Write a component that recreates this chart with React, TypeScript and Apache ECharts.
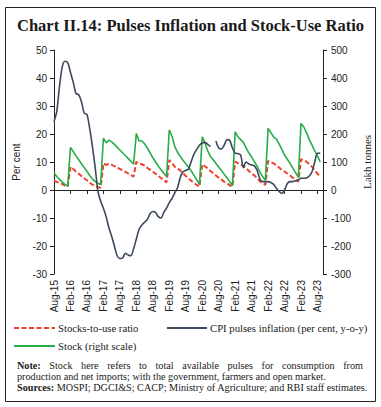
import React, { useEffect, useRef } from "react";
import * as echarts from "echarts";

// ---------- Data ----------
const MONTH_NAMES = ["Jan", "Feb", "Mar", "Apr", "May", "Jun", "Jul", "Aug", "Sep", "Oct", "Nov", "Dec"];
const START_YEAR = 2015;
const START_MONTH = 7; // Aug
const N_MONTHS = 99; // Aug-15 .. Oct-23

const categories: string[] = [];
for (let i = 0; i < N_MONTHS; i++) {
  const m = (START_MONTH + i) % 12;
  const y = START_YEAR + Math.floor((START_MONTH + i) / 12);
  categories.push(`${MONTH_NAMES[m]}-${String(y).slice(2)}`);
}

// CPI pulses inflation (per cent, y-o-y), left scale
const cpiInflation: (number | null)[] = [
  24.5, 28, 37, 44, 46, 45.5, 42, 38.5, 34.5, 34, 31.5, 27.5,
  27, 22, 15.5, 8, -0.5, -4, -6.5, -9.5, -13.5, -16.5, -20, -23.5,
  -24.5, -24.3, -22.6, -23.2, -23.5, -21, -17.5, -14, -12.5, -11.5, -10.5, -8.5,
  -7.7, -8, -9.5, -10, -8, -6.5, -4.5, -3, -1, 0.8, 4.5, 6.5,
  7, 7.5, 10.2, 12.8, 14.5, 16, 16.8, 17, 16.3, 15.5, null, 17.5,
  15, 14.7, 16, 18, 17.8, 15, 13.2, 13, 12.5, 8, 10, 9.3,
  8.9, 8.6, 7, 4, 3, 3, 3, 2.7, 2, 0.6, -0.5, -1.2,
  0, 2.3, 3, 3, 3.3, 3.6, 4.2, 4.2, 4.3, 5, 6.5, 10,
  13.1, 13.1, null,
];

// Stocks-to-use ratio, left scale
const stockUseRatio: (number | null)[] = [
  3.3, 2.9, 2.5, 2.1, 1.6, 1.2,
  8.3, 7.5, 6.6, 5.8, 5.0, 4.2, 3.5, 2.6, 1.9, 1.4, 1.0, 0.8,
  9.5, 9.0, 9.3, 9.0, 8.5, 8.0, 7.5, 7.0, 6.5, 5.9, 5.3, 4.8,
  10.1, 9.3, 9.2, 8.7, 7.9, 7.2, 6.5, 5.8, 5.0, 4.3, 3.5, 2.7,
  10.7, 9.6, 8.3, 7.6, 7.0, 6.0, 5.0, 4.2, 3.3, 2.5, 1.8, 1.2,
  9.2, 8.5, 7.7, 6.8, 6.0, 5.2, 4.4, 3.7, 3.0, 2.4, 1.7, 1.2,
  10.1, 9.6, 9.1, 8.5, 7.9, 6.8, 5.9, 5.2, 4.3, 3.1, 2.5, 1.8,
  10.4, 10.0, 9.5, 8.8, 8.0, 7.2, 6.6, 5.9, 5.2, 4.4, 3.6, 3.0,
  11.0, 10.6, 10.1, 9.2, 8.3, 7.0, 5.8, 4.8, null,
];

// Stock (lakh tonnes), right scale
const stockLakhTonnes: (number | null)[] = [
  62, 48, 38, 28, 20, 14,
  152, 138, 122, 108, 94, 80, 67, 52, 40, 30, 24, 20,
  185, 168, 178, 172, 163, 153, 143, 133, 123, 113, 103, 92,
  202, 175, 175, 165, 150, 133, 115, 100, 86, 72, 60, 48,
  214, 192, 155, 135, 120, 106, 94, 82, 68, 52, 36, 20,
  190, 168, 140, 120, 108, 95, 82, 70, 56, 44, 30, 15,
  208, 190, 180, 170, 150, 132, 118, 101, 85, 65, 48, 35,
  220, 205, 190, 182, 165, 145, 125, 110, 95, 78, 62, 45,
  238, 225, 205, 180, 160, 140, 122, 100, null,
];

const TITLE = "Chart II.14: Pulses Inflation and Stock-Use Ratio";
const SERIES_NAMES = ["Stocks-to-use ratio", "CPI pulses inflation (per cent, y-o-y)", "Stock (right scale)"];
const NOTE_WORDS = ["Stock", "here", "refers", "to", "total", "available", "pulses", "for", "consumption", "from"];
const NOTE_LINE2 = "production and net imports; with the government, farmers and open market.";
const SOURCES_TEXT = "MOSPI; DGCI&S; CACP; Ministry of Agriculture; and RBI staff estimates.";

// ---------- Styles ----------
const RED = "#f0402f";
const DARK = "#3b4a5d";
const GREEN = "#25ad48";
const SERIF = "'Liberation Serif', 'DejaVu Serif', serif";
const SANS = "'Liberation Sans', Arial, sans-serif";
const W = 381;
const H = 407;

function measure(text: string, font: string): number {
  const c = document.createElement("canvas");
  const ctx = c.getContext("2d");
  if (!ctx) return text.length * 5;
  ctx.font = font;
  return ctx.measureText(text).width;
}

export default function App() {
  const ref = useRef<HTMLDivElement>(null);

  useEffect(() => {
    if (!ref.current) return;
    const chart = echarts.init(ref.current, undefined, { renderer: "svg" });

    const noteSize = 10.2;
    const noteFont = `${noteSize}px 'Liberation Serif'`;
    const noteBold = `bold ${noteSize}px 'Liberation Serif'`;
    const textLeft = 17;
    const textRight = 363;

    // justified first note line
    const words = [{ t: "Note:", b: true }, ...NOTE_WORDS.map((t) => ({ t, b: false }))];
    const widths = words.map((w) => measure(w.t, w.b ? noteBold : noteFont));
    const total = widths.reduce((a, b) => a + b, 0);
    const gap = (textRight - textLeft - total) / (words.length - 1);
    let cx = textLeft;
    const noteEls: any[] = [];
    words.forEach((w, i) => {
      noteEls.push({
        type: "text",
        x: cx,
        y: 365,
        style: {
          text: w.t,
          fontSize: noteSize,
          fontFamily: SERIF,
          fontWeight: w.b ? "bold" : "normal",
          fill: "#1a1a1a",
          align: "left",
          verticalAlign: "middle",
        },
      });
      cx += widths[i] + gap;
    });
    const srcLabelW = measure("Sources:", noteBold) + measure(" ", noteFont);

    const legendText = (x: number, y: number, text: string) => ({
      type: "text",
      x,
      y,
      style: { text, fontSize: 10.7, fontFamily: SERIF, fill: "#1a1a1a", align: "left", verticalAlign: "middle" },
    });

    const graphic: any[] = [
      {
        type: "rect",
        shape: { x: 5.5, y: 7.5, width: 370, height: 394 },
        style: { fill: "none", stroke: "#222", lineWidth: 1 },
        silent: true,
      },
      {
        type: "text",
        x: 190.5,
        y: 25,
        style: {
          text: TITLE,
          fontSize: 16.5,
          fontWeight: "bold",
          fontFamily: SERIF,
          fill: "#1a1a1a",
          align: "center",
          verticalAlign: "middle",
        },
      },
      // legend
      { type: "line", shape: { x1: 14, y1: 328, x2: 55, y2: 328 }, style: { stroke: RED, lineWidth: 2, lineDash: [5, 2.5] } },
      legendText(58, 328, SERIES_NAMES[0]),
      { type: "line", shape: { x1: 167, y1: 328, x2: 207, y2: 328 }, style: { stroke: DARK, lineWidth: 2 } },
      legendText(210, 328, SERIES_NAMES[1]),
      { type: "line", shape: { x1: 14, y1: 346, x2: 55, y2: 346 }, style: { stroke: GREEN, lineWidth: 2 } },
      legendText(58, 346, SERIES_NAMES[2]),
      ...noteEls,
      {
        type: "text",
        x: textLeft,
        y: 376,
        style: { text: NOTE_LINE2, fontSize: noteSize, fontFamily: SERIF, fill: "#1a1a1a", align: "left", verticalAlign: "middle" },
      },
      {
        type: "text",
        x: textLeft,
        y: 387,
        style: { text: "Sources:", fontSize: noteSize, fontWeight: "bold", fontFamily: SERIF, fill: "#1a1a1a", align: "left", verticalAlign: "middle" },
      },
      {
        type: "text",
        x: textLeft + srcLabelW,
        y: 387,
        style: { text: SOURCES_TEXT, fontSize: noteSize, fontFamily: SERIF, fill: "#1a1a1a", align: "left", verticalAlign: "middle" },
      },
    ];

    const axisLabelStyle = { fontSize: 10, fontFamily: SANS, color: "#222" };

    chart.setOption({
      animation: false,
      backgroundColor: "#fff",
      grid: { left: 54, right: W - 323, top: 50, bottom: H - 274, containLabel: false },
      xAxis: [
        {
          type: "category",
          data: categories,
          boundaryGap: false,
          axisLine: { onZero: true, lineStyle: { color: "#222", width: 1 } },
          axisTick: { show: true, interval: 5, length: 4, lineStyle: { color: "#222" } },
          axisLabel: { show: false },
          splitLine: { show: false },
        },
        {
          type: "category",
          data: categories,
          boundaryGap: false,
          position: "bottom",
          axisLine: { show: false, onZero: false },
          axisTick: { show: false },
          axisLabel: { ...axisLabelStyle, interval: 5, rotate: 90, margin: 6 },
          splitLine: { show: false },
        },
      ],
      yAxis: [
        {
          type: "value",
          min: -30,
          max: 50,
          interval: 10,
          position: "left",
          name: "Per cent",
          nameLocation: "middle",
          nameRotate: 90,
          nameGap: 27,
          nameTextStyle: { fontSize: 10, fontFamily: SANS, color: "#222" },
          axisLine: { show: true, lineStyle: { color: "#222", width: 1 } },
          axisTick: { show: true, length: 4, lineStyle: { color: "#222" } },
          axisLabel: { ...axisLabelStyle, margin: 7 },
          splitLine: { show: false },
        },
        {
          type: "value",
          min: -300,
          max: 500,
          interval: 100,
          position: "right",
          name: "Lakh tonnes",
          nameLocation: "middle",
          nameRotate: 90,
          nameGap: 37,
          nameTextStyle: { fontSize: 11, fontFamily: SERIF, color: "#222" },
          axisLine: { show: true, lineStyle: { color: "#222", width: 1 } },
          axisTick: { show: true, length: 4, lineStyle: { color: "#222" } },
          axisLabel: { ...axisLabelStyle, margin: 8 },
          splitLine: { show: false },
        },
      ],
      series: [
        {
          name: SERIES_NAMES[0],
          type: "line",
          data: stockUseRatio,
          xAxisIndex: 0,
          yAxisIndex: 0,
          symbol: "none",
          lineStyle: { color: RED, width: 2, type: [5, 2.5] },
          z: 3,
        },
        {
          name: SERIES_NAMES[2],
          type: "line",
          data: stockLakhTonnes,
          xAxisIndex: 0,
          yAxisIndex: 1,
          symbol: "none",
          lineStyle: { color: GREEN, width: 1.6 },
          z: 4,
        },
        {
          name: SERIES_NAMES[1],
          type: "line",
          data: cpiInflation,
          xAxisIndex: 0,
          yAxisIndex: 0,
          symbol: "none",
          smooth: 0.3,
          connectNulls: false,
          lineStyle: { color: DARK, width: 1.6 },
          z: 5,
        },
      ],
      graphic,
    });

    return () => chart.dispose();
  }, []);

  return (
    <div
      ref={ref}
      style={{ position: "absolute", left: 0, top: 0, width: W, height: H, background: "#fff" }}
    />
  );
}
